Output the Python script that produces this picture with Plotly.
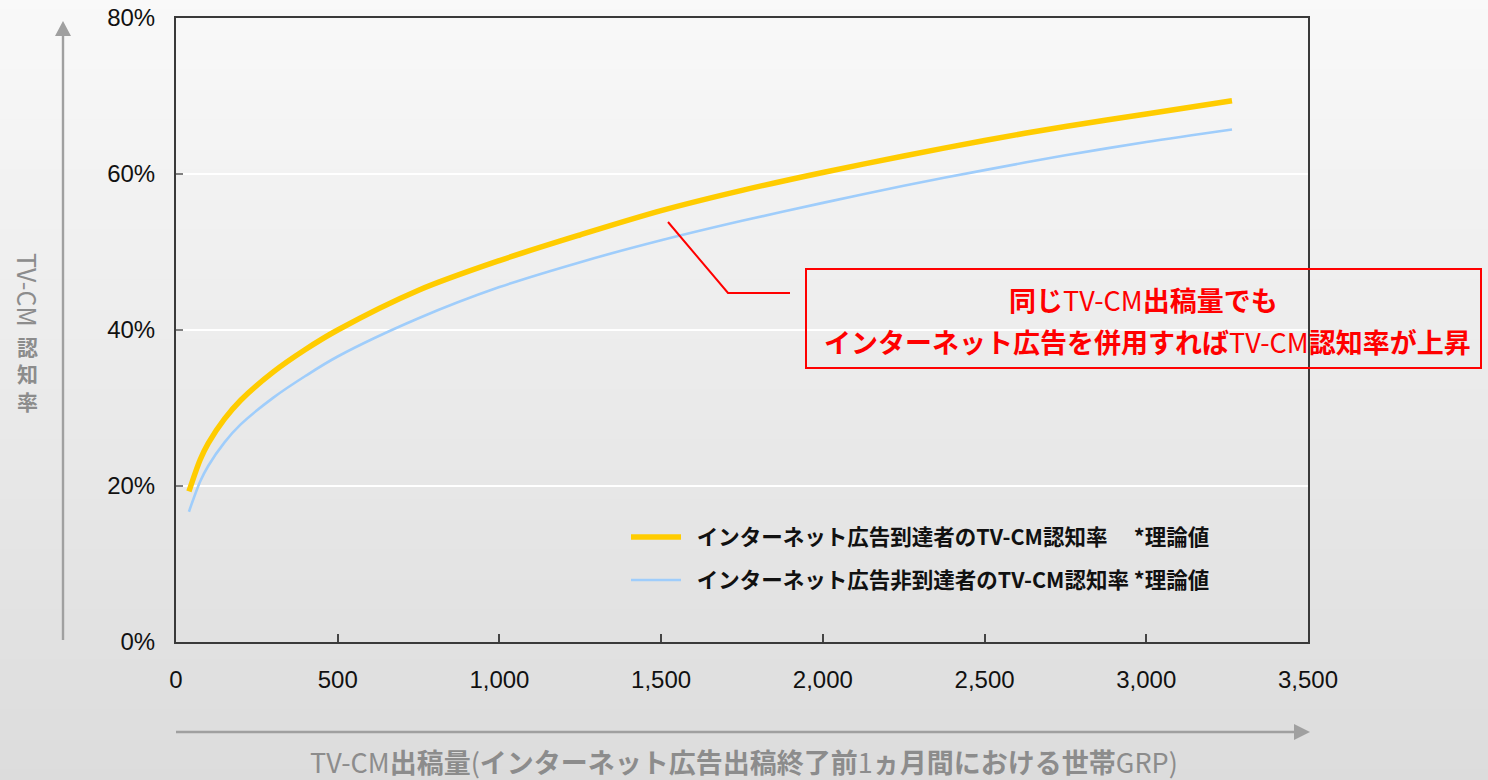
import plotly.graph_objects as go

# TV-CM出稿量 (世帯GRP) と TV-CM認知率 (%)
grp = [40, 75, 100, 150, 200, 300, 400, 500, 750, 1000, 1250, 1500, 1750, 2000, 2250, 2500, 2750, 3000, 3265]
reached = [19.3, 23.4, 25.5, 28.6, 31.0, 34.6, 37.5, 40.0, 45.1, 48.9, 52.2, 55.3, 57.9, 60.2, 62.3, 64.3, 66.1, 67.7, 69.4]
not_reached = [16.7, 20.6, 22.6, 25.6, 27.9, 31.3, 34.1, 36.6, 41.5, 45.5, 48.7, 51.5, 54.0, 56.3, 58.5, 60.5, 62.4, 64.1, 65.7]

name_reached = "\u2002<b>インターネット広告到達者のTV-CM認知率\u3000 *理論値</b>"
name_not_reached = "\u2002<b>インターネット広告非到達者のTV-CM認知率 *理論値</b>"

x_ticks = [0, 500, 1000, 1500, 2000, 2500, 3000, 3500]
y_ticks = [0, 20, 40, 60, 80]
y_tick_text = [f"{v}%" for v in y_ticks]

W, H = 1488, 780
L, R, T, B = 176, 1308, 18, 642  # plot area in pixels
JP = "Noto Sans CJK JP"


def px(x):
    return (x - L) / (R - L)


def py(y):
    return (B - y) / (B - T)


fig = go.Figure()
fig.add_trace(go.Scatter(
    x=grp, y=not_reached, mode="lines", name=name_not_reached,
    line=dict(color="#9fcdfb", width=2.6, shape="spline", smoothing=0.9),
    legend="legend2",
))
fig.add_trace(go.Scatter(
    x=grp, y=reached, mode="lines", name=name_reached,
    line=dict(color="#ffcc00", width=5.5, shape="spline", smoothing=0.9),
    legend="legend",
))

shapes = []
# vertical background gradient
n = 78
top_c, bot_c = (249, 249, 249), (220, 220, 220)
for i in range(n):
    t = (i + 0.5) / n
    c = tuple(round(a + (b - a) * t) for a, b in zip(top_c, bot_c))
    y0 = H * i / n - 0.6
    y1 = H * (i + 1) / n + 0.6
    shapes.append(dict(type="rect", xref="paper", yref="paper", layer="below",
                       x0=px(-2), x1=px(W + 2), y0=py(y1), y1=py(y0),
                       fillcolor="rgb(%d,%d,%d)" % c, line=dict(width=0)))

arrow_c = "#a0a0a0"
# y-direction arrow
shapes.append(dict(type="line", xref="paper", yref="paper",
                   x0=px(63), x1=px(63), y0=py(640), y1=py(34),
                   line=dict(color=arrow_c, width=2.4)))
shapes.append(dict(type="path", xref="paper", yref="paper",
                   path="M %f %f L %f %f L %f %f Z" % (px(63), py(21), px(55), py(36), px(71), py(36)),
                   fillcolor=arrow_c, line=dict(width=0)))
# x-direction arrow
shapes.append(dict(type="line", xref="paper", yref="paper",
                   x0=px(176), x1=px(1296), y0=py(732), y1=py(732),
                   line=dict(color=arrow_c, width=2.4)))
shapes.append(dict(type="path", xref="paper", yref="paper",
                   path="M %f %f L %f %f L %f %f Z" % (px(1310), py(732), px(1294), py(724), px(1294), py(740)),
                   fillcolor=arrow_c, line=dict(width=0)))

# callout box and leader
red = "#ff0000"
shapes.append(dict(type="rect", xref="paper", yref="paper",
                   x0=px(806), x1=px(1481), y0=py(368), y1=py(269),
                   line=dict(color=red, width=2), fillcolor="rgba(0,0,0,0)"))
shapes.append(dict(type="path", xref="paper", yref="paper",
                   path="M %f %f L %f %f L %f %f" % (px(668), py(222), px(728), py(293), px(790), py(293)),
                   line=dict(color=red, width=2)))

gray_t = "#8c8c8c"
annotations = [
    dict(text="<b>同じ</b>TV-CM<b>出稿量でも</b>", xref="paper", yref="paper",
         x=px(1143), y=py(300), showarrow=False, xanchor="center", yanchor="middle",
         font=dict(family=JP, size=27, color=red)),
    dict(text="<b>インターネット広告を併用すれば</b>TV-CM<b>認知率が上昇</b>", xref="paper", yref="paper",
         x=px(1147), y=py(342), showarrow=False, xanchor="center", yanchor="middle",
         font=dict(family=JP, size=27, color=red)),
    # y axis title (vertical writing)
    dict(text="TV-CM", xref="paper", yref="paper", x=px(28), y=py(290),
         showarrow=False, textangle=90, xanchor="center", yanchor="middle",
         font=dict(family=JP, size=25, color=gray_t)),
    dict(text="<b>認<br>知<br>率</b>", xref="paper", yref="paper", x=px(28), y=py(373),
         showarrow=False, xanchor="center", yanchor="middle", align="center",
         font=dict(family=JP, size=21, color=gray_t)),
    # x axis title
    dict(text="TV-CM<b>出稿量</b>(<b>インターネット広告出稿終了前</b>1<b>ヵ月間における世帯</b>GRP)",
         xref="paper", yref="paper", x=px(744), y=py(761), showarrow=False,
         xanchor="center", yanchor="middle",
         font=dict(family=JP, size=27, color=gray_t)),
]

legend_common = dict(bgcolor="rgba(0,0,0,0)", borderwidth=0, xanchor="left", yanchor="middle",
                     itemwidth=50, font=dict(family=JP, size=21.5, color="#111111"))

fig.update_layout(
    width=W, height=H,
    margin=dict(l=L, r=W - R, t=T, b=H - B, pad=0, autoexpand=False),
    paper_bgcolor="#ebebeb",
    plot_bgcolor="rgba(0,0,0,0)",
    showlegend=True,
    legend=dict(x=px(626), y=py(537), **legend_common),
    legend2=dict(x=px(626), y=py(580), **legend_common),
    shapes=shapes,
    annotations=annotations,
    xaxis=dict(
        range=[0, 3500], tickvals=x_ticks, tickformat=",d",
        showgrid=False, zeroline=False, automargin=False,
        showline=True, linecolor="#3a3a3a", linewidth=2, mirror=True,
        ticks="inside", ticklen=8, tickwidth=1.5, tickcolor="#444444",
        ticklabelstandoff=15,
        tickfont=dict(family="Liberation Sans", size=24, color="#111111"),
    ),
    yaxis=dict(
        range=[0, 80], tickvals=y_ticks, ticktext=y_tick_text,
        showgrid=True, gridcolor="#ffffff", gridwidth=1.5, zeroline=False, automargin=False,
        showline=True, linecolor="#3a3a3a", linewidth=2, mirror=True,
        ticks="inside", ticklen=7, tickwidth=2, tickcolor="#808080",
        ticklabelstandoff=14,
        tickfont=dict(family="Liberation Sans", size=24, color="#111111"),
    ),
)

fig.write_html("out.html")
